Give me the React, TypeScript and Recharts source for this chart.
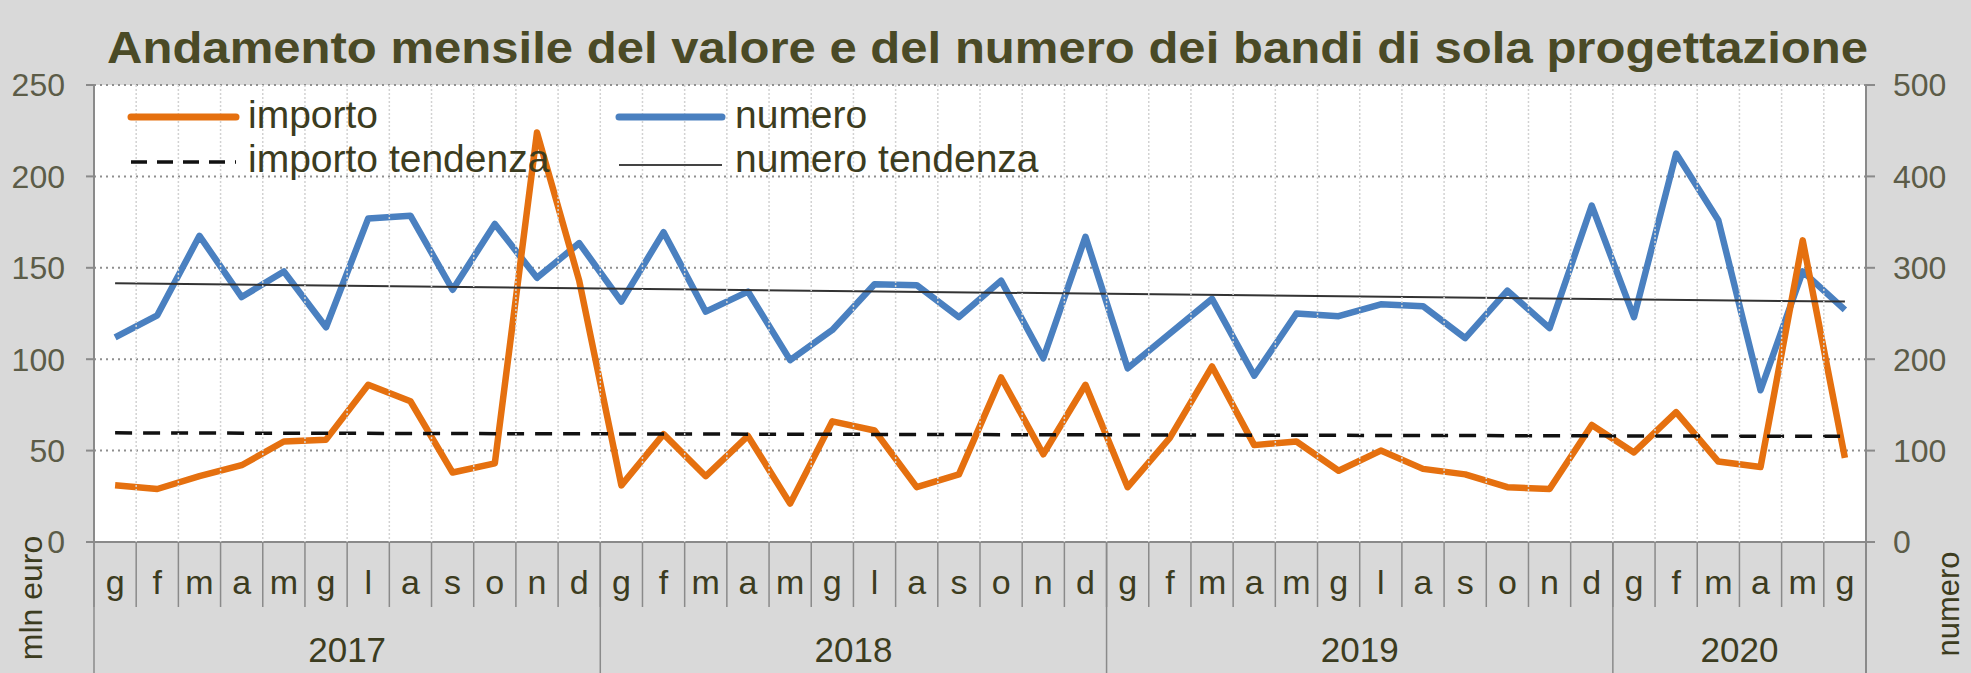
import { LineChart, Line, XAxis, YAxis, CartesianGrid, Legend, Customized } from "recharts";

const YEARS = [2017, 2018, 2019, 2020];
const MONTHS_PER_YEAR = [12, 12, 12, 6];
const MONTH_LETTERS = ["g", "f", "m", "a", "m", "g", "l", "a", "s", "o", "n", "d"];

// mln euro, left axis
const IMPORTO = [
  31, 29, 36, 42, 55, 56, 86, 77, 38, 43, 224, 143,
  31, 59, 36, 58, 21, 66, 61, 30, 37, 90, 48, 86,
  30, 57, 96, 53, 55, 39, 50, 40, 37, 30, 29, 64,
  49, 71, 44, 41, 165, 46,
];

// numero bandi, right axis
const NUMERO = [
  224, 248, 335, 268, 296, 235, 354, 357, 276, 348, 289, 327,
  263, 339, 252, 274, 199, 232, 282, 281, 246, 286, 201, 334,
  190, 228, 266, 182, 250, 247, 260, 258, 223, 275, 234, 368,
  246, 425, 352, 166, 296, 254,
];

// trend lines: first and last month
const IMPORTO_TREND = [59.7, 57.8];
const NUMERO_TREND = [283, 263];

const LEFT_TICKS = [0, 50, 100, 150, 200, 250];
const RIGHT_TICKS = [0, 100, 200, 300, 400, 500];

const TITLE = "Andamento mensile del valore e del numero dei bandi di sola progettazione";

const COLORS = {
  importo: "#e5700f",
  numero: "#4a80c0",
  text: "#3c3c20",
  tick: "#5c5c48",
  axis: "#8a8a8a",
  bg: "#d9d9d9",
};

const W = 1971;
const H = 673;
const PLOT_LEFT = 94;
const PLOT_RIGHT = 1866;
const PLOT_TOP = 85;
const MONTH_ROW = 65;
const YEAR_ROW = 66;
const PLOT_BOTTOM = H - MONTH_ROW - YEAR_ROW;
const FONT = "'Liberation Sans', Arial, sans-serif";

type Row = {
  key: string;
  month: string;
  year: number;
  monthIndex: number;
  monthsInYear: number;
  importo: number;
  numero: number;
  importoTrend: number | null;
  numeroTrend: number | null;
};

const rows: Row[] = [];
YEARS.forEach((year, yi) => {
  for (let m = 0; m < MONTHS_PER_YEAR[yi]; m++) {
    const i = rows.length;
    rows.push({
      key: `${year}-${m + 1}`,
      month: MONTH_LETTERS[m],
      year,
      monthIndex: m,
      monthsInYear: MONTHS_PER_YEAR[yi],
      importo: IMPORTO[i],
      numero: NUMERO[i],
      importoTrend: null,
      numeroTrend: null,
    });
  }
});
rows[0].importoTrend = IMPORTO_TREND[0];
rows[rows.length - 1].importoTrend = IMPORTO_TREND[1];
rows[0].numeroTrend = NUMERO_TREND[0];
rows[rows.length - 1].numeroTrend = NUMERO_TREND[1];

const rowByKey: Record<string, Row> = {};
rows.forEach((r) => (rowByKey[r.key] = r));

const halfBand = (payload: any) =>
  typeof payload?.offset === "number" && payload.offset > 0
    ? payload.offset
    : (PLOT_RIGHT - PLOT_LEFT) / rows.length / 2;

const MonthTick = (props: any) => {
  const { x, payload } = props;
  const row = rowByKey[payload.value];
  if (!row) return null;
  const half = halfBand(payload);
  const left = x - half;
  const isFirst = row === rows[0];
  return (
    <g>
      {!isFirst && (
        <line x1={left} x2={left} y1={PLOT_TOP} y2={PLOT_BOTTOM} stroke="#d2d2d2" strokeWidth={1.5} strokeDasharray="2 2" />
      )}
      <line x1={left} x2={left} y1={PLOT_BOTTOM} y2={PLOT_BOTTOM + MONTH_ROW} stroke={COLORS.axis} strokeWidth={1.5} />
      <text x={x} y={PLOT_BOTTOM + 52} textAnchor="middle" fontSize={34} fontFamily={FONT} fill={COLORS.text}>
        {row.month}
      </text>
    </g>
  );
};

const YearTick = (props: any) => {
  const { x, payload } = props;
  const row = rowByKey[payload.value];
  if (!row) return null;
  const half = halfBand(payload);
  const isLast = row === rows[rows.length - 1];
  const mid = Math.floor(row.monthsInYear / 2);
  const labelX = row.monthsInYear % 2 === 0 ? x - half : x;
  return (
    <g>
      {row.monthIndex === 0 && (
        <line x1={x - half} x2={x - half} y1={PLOT_BOTTOM} y2={H} stroke={COLORS.axis} strokeWidth={1.5} />
      )}
      {isLast && <line x1={x + half} x2={x + half} y1={PLOT_BOTTOM} y2={H} stroke={COLORS.axis} strokeWidth={2} />}
      {row.monthIndex === mid && (
        <text x={labelX} y={H - 11} textAnchor="middle" fontSize={35} fontFamily={FONT} fill={COLORS.text}>
          {row.year}
        </text>
      )}
    </g>
  );
};

const LegendContent = () => (
  <svg width={1200} height={200} style={{ display: "block" }}>
    <line x1={131} x2={236} y1={117} y2={117} stroke={COLORS.importo} strokeWidth={7} strokeLinecap="round" />
    <text x={248} y={128} fontSize={39} fontFamily={FONT} fill={COLORS.text}>importo</text>
    <line x1={131} x2={236} y1={162} y2={162} stroke="#111" strokeWidth={3.5} strokeDasharray="16 10" />
    <text x={248} y={172} fontSize={39} fontFamily={FONT} fill={COLORS.text}>importo tendenza</text>
    <line x1={619} x2={722} y1={117} y2={117} stroke={COLORS.numero} strokeWidth={7} strokeLinecap="round" />
    <text x={735} y={128} fontSize={39} fontFamily={FONT} fill={COLORS.text}>numero</text>
    <line x1={619} x2={722} y1={165} y2={165} stroke="#444" strokeWidth={2} />
    <text x={735} y={172} fontSize={39} fontFamily={FONT} fill={COLORS.text}>numero tendenza</text>
  </svg>
);

const Titles = () => (
  <g fontFamily={FONT}>
    <text
      x={107}
      y={63}
      fontSize={45}
      fontWeight="bold"
      fill="#4a4a26"
      textLength={1761}
      lengthAdjust="spacingAndGlyphs"
    >
      {TITLE}
    </text>
    <text x={31} y={598} dy="0.35em" transform="rotate(-90 31 598)" textAnchor="middle" fontSize={32} fill={COLORS.text}>
      mln euro
    </text>
    <text x={1948} y={604} dy="0.35em" transform="rotate(-90 1948 604)" textAnchor="middle" fontSize={31} fill={COLORS.text}>
      numero
    </text>
  </g>
);

const App = () => {
  return (
    <div style={{ position: "absolute", left: 0, top: 0, width: W, height: H, background: COLORS.bg }}>
      <LineChart
        width={W}
        height={H}
        data={rows}
        margin={{ top: PLOT_TOP, right: 0, bottom: 0, left: 0 }}
      >
        <CartesianGrid
          xAxisId="m"
          yAxisId="l"
          vertical={false}
          stroke="#8f8f8f"
          strokeWidth={2}
          strokeDasharray="2 4"
          fill="#ffffff"
        />
        <XAxis
          xAxisId="m"
          dataKey="key"
          scale="band"
          interval={0}
          height={MONTH_ROW}
          tickLine={false}
          axisLine={{ stroke: COLORS.axis, strokeWidth: 2 }}
          tick={(p: any) => <MonthTick {...p} />}
        />
        <XAxis
          xAxisId="yr"
          dataKey="key"
          scale="band"
          interval={0}
          height={YEAR_ROW}
          tickLine={false}
          axisLine={false}
          tick={(p: any) => <YearTick {...p} />}
        />
        <YAxis
          yAxisId="l"
          orientation="left"
          width={PLOT_LEFT}
          domain={[0, 250]}
          ticks={LEFT_TICKS}
          interval={0}
          tickSize={8}
          tickMargin={21}
          axisLine={{ stroke: COLORS.axis, strokeWidth: 2 }}
          tickLine={{ stroke: COLORS.axis, strokeWidth: 2 }}
          tick={{ fontSize: 32, fontFamily: FONT, fill: COLORS.tick }}
        />
        <YAxis
          yAxisId="r"
          orientation="right"
          width={W - PLOT_RIGHT}
          domain={[0, 500]}
          ticks={RIGHT_TICKS}
          interval={0}
          tickSize={9}
          tickMargin={18}
          axisLine={{ stroke: COLORS.axis, strokeWidth: 2 }}
          tickLine={{ stroke: COLORS.axis, strokeWidth: 2 }}
          tick={{ fontSize: 32, fontFamily: FONT, fill: COLORS.tick, textAnchor: "start" }}
        />
        <Legend
          layout="horizontal"
          verticalAlign="middle"
          align="center"
          wrapperStyle={{ left: 0, top: 0, width: 1200, height: 200 }}
          content={() => <LegendContent />}
        />
        <Line
          xAxisId="m"
          yAxisId="r"
          dataKey="numero"
          stroke={COLORS.numero}
          strokeWidth={6.5}
          strokeLinejoin="round"
          dot={false}
          activeDot={false}
          isAnimationActive={false}
        />
        <Line
          xAxisId="m"
          yAxisId="l"
          dataKey="importo"
          stroke={COLORS.importo}
          strokeWidth={6.5}
          strokeLinejoin="round"
          dot={false}
          activeDot={false}
          isAnimationActive={false}
        />
        <Line
          xAxisId="m"
          yAxisId="l"
          dataKey="importoTrend"
          stroke="#111111"
          strokeWidth={3.5}
          strokeDasharray="17 11"
          connectNulls
          dot={false}
          activeDot={false}
          isAnimationActive={false}
        />
        <Line
          xAxisId="m"
          yAxisId="r"
          dataKey="numeroTrend"
          stroke="#333333"
          strokeWidth={2}
          connectNulls
          dot={false}
          activeDot={false}
          isAnimationActive={false}
        />
        <Customized component={<Titles />} />
      </LineChart>
    </div>
  );
};

export default App;
